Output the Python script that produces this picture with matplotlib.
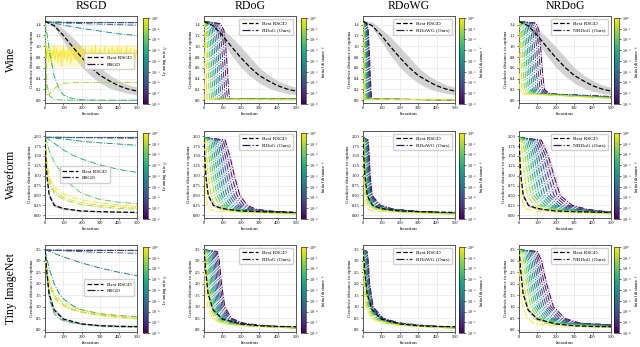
#!/usr/bin/env python3
"""Geodesic distance to optima for RSGD / RDoG / RDoWG / NRDoG on three datasets."""

import matplotlib
matplotlib.use("Agg")
import matplotlib.pyplot as plt
from matplotlib.cm import ScalarMappable
from matplotlib.colors import LogNorm
from matplotlib.lines import Line2D

DATASETS = ["Wine", "Waveform", "Tiny ImageNet"]
METHODS = ["RSGD", "RDoG", "RDoWG", "NRDoG"]
METHOD_LABELS = ["RSGD", "RDoG (Ours)", "RDoWG (Ours)", "NRDoG (Ours)"]
CBAR_LABELS = [r"Learning rate $\eta$", r"Initial distance $\epsilon$",
               r"Initial distance $\epsilon$", r"Initial distance $\epsilon$"]
X_TICKS = [0, 100, 200, 300, 400, 500]
Y_TICKS = {
    "Wine": [0.0, 0.2, 0.4, 0.6, 0.8, 1.0, 1.2, 1.4],
    "Waveform": [0.0, 0.25, 0.5, 0.75, 1.0, 1.25, 1.5, 1.75, 2.0],
    "Tiny ImageNet": [0.0, 0.5, 1.0, 1.5, 2.0, 2.5, 3.0, 3.5],
}
Y_FMT = {"Wine": "{:.1f}", "Waveform": "{:.2f}", "Tiny ImageNet": "{:.1f}"}
Y_LIM = {"Wine": (-0.05, 1.56), "Waveform": (-0.07, 2.13), "Tiny ImageNet": (-0.09, 3.68)}
CBAR_TICK_EXP = [0, -1, -2, -3, -4, -5, -6, -7, -8]

# ---- best RSGD (black dashed) with spread ----
WINE_BEST_X = [0, 50, 100, 150, 200, 250, 300, 350, 400, 450, 500]
WINE_BEST_Y = [1.46, 1.38, 1.2, 0.99, 0.79, 0.61, 0.46, 0.36, 0.27, 0.21, 0.17]
WINE_BEST_LO = [1.46, 1.35, 1.09, 0.83, 0.61, 0.45, 0.32, 0.23, 0.17, 0.13, 0.10]
WINE_BEST_HI = [1.46, 1.45, 1.32, 1.17, 0.99, 0.80, 0.61, 0.47, 0.37, 0.29, 0.24]

WAVE_BEST_X = [0, 4, 10, 23, 51, 98, 193, 300, 400, 500]
WAVE_BEST_Y = [1.97, 1.5, 1.0, 0.5, 0.25, 0.17, 0.11, 0.09, 0.08, 0.07]
WAVE_BEST_LO = [1.97, 1.42, 0.92, 0.44, 0.21, 0.14, 0.09, 0.075, 0.065, 0.055]
WAVE_BEST_HI = [1.97, 1.58, 1.08, 0.56, 0.29, 0.20, 0.13, 0.105, 0.095, 0.085]

TINY_BEST_X = [0, 5, 10, 22, 49, 100, 200, 300, 400, 500]
TINY_BEST_Y = [3.47, 3.0, 2.5, 1.58, 0.87, 0.47, 0.26, 0.18, 0.15, 0.14]
TINY_BEST_LO = [3.47, 2.85, 2.33, 1.45, 0.78, 0.41, 0.22, 0.15, 0.12, 0.11]
TINY_BEST_HI = [3.47, 3.15, 2.67, 1.72, 0.96, 0.53, 0.30, 0.21, 0.18, 0.17]

# ---- RSGD runs, one per learning rate (exponent of eta) ----
WINE_RSGD_X = [0, 10, 25, 50, 75, 100, 150, 200, 300, 400, 500]
WINE_RSGD_EXP = [-8, -7, -6, -5, -4, -3, -2, -1]
WINE_RSGD_Y = [
    [1.455, 1.455, 1.455, 1.455, 1.455, 1.455, 1.455, 1.455, 1.455, 1.455, 1.455],
    [1.45, 1.45, 1.45, 1.45, 1.45, 1.45, 1.45, 1.45, 1.45, 1.45, 1.45],
    [1.45, 1.45, 1.45, 1.45, 1.45, 1.445, 1.445, 1.44, 1.44, 1.435, 1.435],
    [1.45, 1.45, 1.445, 1.44, 1.435, 1.43, 1.425, 1.42, 1.41, 1.40, 1.39],
    [1.45, 1.45, 1.44, 1.43, 1.41, 1.39, 1.36, 1.33, 1.28, 1.23, 1.20],
    [1.45, 1.25, 0.89, 0.45, 0.22, 0.10, 0.03, 0.01, 0.0, 0.0, 0.0],
    [1.45, 0.30, 0.08, 0.02, 0.01, 0.005, 0.0, 0.0, 0.0, 0.0, 0.0],
    [1.45, 0.10, 0.12, 0.22, 0.28, 0.31, 0.33, 0.33, 0.33, 0.33, 0.33],
]
WINE_NOISY_EXP = 0
WINE_NOISY_RANGE = (0.62, 1.03)
WINE_NOISY_X = list(range(0, 501, 5))
WINE_NOISY_Y = [
    1.45, 0.93, 0.78, 0.99, 0.70, 0.88, 0.95, 0.66, 0.91, 0.82,
    1.02, 0.74, 0.87, 0.97, 0.69, 0.90, 0.80, 0.94, 0.63, 0.86,
    1.00, 0.77, 0.92, 0.84, 0.71, 0.96, 0.81, 0.89, 0.67, 0.93,
    0.85, 0.98, 0.75, 0.88, 0.79, 1.01, 0.72, 0.90, 0.83, 0.95,
    0.68, 0.87, 0.92, 0.76, 0.99, 0.81, 0.86, 0.64, 0.94, 0.89,
    0.78, 0.97, 0.73, 0.91, 0.84, 1.02, 0.70, 0.88, 0.82, 0.96,
    0.77, 0.93, 0.86, 0.65, 0.90, 0.99, 0.80, 0.87, 0.74, 0.95,
    0.83, 0.92, 0.69, 0.98, 0.85, 0.79, 0.94, 0.71, 0.89, 1.00,
    0.76, 0.91, 0.84, 0.97, 0.67, 0.88, 0.82, 0.93, 0.78, 1.01,
    0.73, 0.90, 0.86, 0.96, 0.70, 0.87, 0.81, 0.94, 0.75, 0.92,
    0.85,
]

WAVE_RSGD_X = [0, 10, 25, 50, 100, 150, 200, 300, 400, 500]
WAVE_RSGD_EXP = [-8, -7, -6, -5, -4, -3, -2, -1, -0.5, 0]
WAVE_RSGD_Y = [
    [1.975, 1.975, 1.975, 1.975, 1.975, 1.975, 1.975, 1.975, 1.975, 1.975],
    [1.97, 1.97, 1.97, 1.97, 1.97, 1.97, 1.97, 1.97, 1.97, 1.97],
    [1.97, 1.97, 1.97, 1.97, 1.97, 1.965, 1.965, 1.965, 1.96, 1.96],
    [1.97, 1.97, 1.97, 1.97, 1.965, 1.96, 1.96, 1.955, 1.95, 1.95],
    [1.97, 1.965, 1.96, 1.95, 1.93, 1.90, 1.87, 1.83, 1.80, 1.77],
    [1.97, 1.95, 1.90, 1.82, 1.65, 1.52, 1.42, 1.27, 1.16, 1.08],
    [1.97, 1.85, 1.60, 1.35, 0.98, 0.73, 0.55, 0.40, 0.33, 0.29],
    [1.97, 1.20, 0.80, 0.56, 0.40, 0.32, 0.27, 0.21, 0.17, 0.15],
    [1.97, 1.30, 0.88, 0.63, 0.45, 0.37, 0.32, 0.25, 0.21, 0.18],
    [1.97, 1.40, 0.95, 0.72, 0.54, 0.45, 0.39, 0.31, 0.26, 0.22],
]

TINY_RSGD_X = [0, 10, 25, 50, 75, 100, 150, 200, 300, 400, 500]
TINY_RSGD_EXP = [-8, -7, -6.5, -5.5, -4.7, -4, -2.8, -1, -0.5, 0]
TINY_RSGD_Y = [
    [3.47, 3.47, 3.47, 3.47, 3.47, 3.47, 3.47, 3.47, 3.47, 3.47, 3.47],
    [3.465, 3.465, 3.465, 3.465, 3.465, 3.465, 3.465, 3.465, 3.465, 3.465, 3.465],
    [3.46, 3.46, 3.46, 3.46, 3.46, 3.46, 3.46, 3.455, 3.455, 3.45, 3.45],
    [3.47, 3.47, 3.46, 3.45, 3.44, 3.43, 3.41, 3.39, 3.36, 3.34, 3.32],
    [3.47, 3.45, 3.40, 3.32, 3.24, 3.17, 3.03, 2.90, 2.68, 2.50, 2.35],
    [3.47, 3.10, 2.60, 2.00, 1.60, 1.35, 1.05, 0.87, 0.70, 0.62, 0.57],
    [3.47, 2.40, 1.30, 0.70, 0.50, 0.40, 0.30, 0.25, 0.20, 0.17, 0.16],
    [3.20, 2.60, 2.00, 1.50, 1.25, 1.10, 0.90, 0.78, 0.65, 0.57, 0.50],
    [3.15, 2.50, 1.90, 1.40, 1.18, 1.05, 0.86, 0.75, 0.62, 0.54, 0.48],
    [3.10, 2.70, 2.10, 1.60, 1.35, 1.20, 0.98, 0.85, 0.70, 0.62, 0.56],
]

# ---- DoG-type runs: one per initial distance epsilon ----
# each row: iteration at which every run first reaches the matching level
EPS_EXP = [-8, -7.33, -6.67, -6, -5.33, -4.67, -4, -3.33, -2.67, -2, -1.33, -0.67, 0]

WINE_LEVELS = [1.46, 1.42, 1.3, 1.0, 0.5, 0.15, 0.02]
WINE_RDOG_CROSS = [
    [88, 78, 68, 58, 49, 40, 32, 24, 17, 11, 6, 2, 0.3],
    [108, 97, 86, 75, 65, 55, 46, 37, 28, 20, 13, 6, 0.8],
    [118, 107, 96, 85, 75, 65, 55, 46, 37, 28, 19, 10, 1.5],
    [128, 117, 106, 95, 84, 74, 64, 54, 44, 34, 24, 13, 2.5],
    [135, 124, 113, 101, 90, 80, 69, 59, 48, 38, 27, 15, 3.5],
    [140, 129, 117, 106, 95, 84, 73, 62, 51, 41, 30, 17, 5],
]
WINE_RDOG_FINAL = [0.02, 0.02, 0.02, 0.02, 0.02, 0.02, 0.02, 0.02, 0.02, 0.02, 0.02, 0.015, 0.01]

WINE_RDOWG_CROSS = [
    [22, 20, 18, 16, 14, 12, 10, 8, 6, 4, 2.5, 1.2, 0.3],
    [28, 26, 24, 21.5, 19, 17, 14.5, 12, 10, 7.5, 5, 2.5, 0.6],
    [33, 30.5, 28, 25.5, 23, 20.5, 18, 15.5, 13, 10, 7, 4, 1.2],
    [39, 36, 33, 30, 27, 24, 21, 18, 15, 12, 9, 5, 2],
    [44, 41, 38, 34.5, 31, 28, 25, 21.5, 18, 14.5, 11, 6.5, 3],
    [47, 44, 41, 37.5, 34, 31, 27.5, 24, 20.5, 17, 13, 8, 4],
]
WINE_RDOWG_FINAL = [0.01, 0.01, 0.01, 0.01, 0.01, 0.01, 0.01, 0.01, 0.01, 0.01, 0.01, 0.01, 0.005]

NRDOG_WINE_LEVELS = [1.46, 1.43, 1.3, 1.0, 0.5, 0.2, 0.12]
WINE_NRDOG_CROSS = [
    [92, 82, 72, 62, 53, 44, 36, 28, 20, 13, 7, 3, 0.2],
    [108, 97, 86, 75, 65, 55, 46, 37, 28, 20, 13, 6, 0.5],
    [117, 106, 95, 84, 74, 64, 54, 45, 36, 27, 18, 9, 1],
    [128, 117, 106, 95, 84, 74, 64, 54, 44, 34, 24, 13, 2],
    [138, 127, 115, 104, 93, 82, 72, 61, 51, 40, 29, 17, 4],
    [170, 160, 150, 140, 130, 120, 110, 100, 90, 75, 60, 40, 20],
]
WINE_NRDOG_FINAL = [0.07, 0.065, 0.06, 0.058, 0.055, 0.052, 0.05, 0.048, 0.045, 0.042, 0.04, 0.038, 0.035]

WAVE_LEVELS = [1.97, 1.9, 1.5, 1.0, 0.5, 0.25, 0.15, 0.1]
WAVE_RDOG_CROSS = [
    [115, 104, 93, 83, 73, 63, 54, 45, 36, 27, 18, 9, 1],
    [140, 127, 115, 103, 91, 80, 69, 58, 47, 37, 27, 15, 2.5],
    [165, 151, 137, 124, 111, 98, 86, 74, 62, 50, 38, 23, 5],
    [195, 180, 165, 151, 137, 123, 110, 97, 84, 71, 57, 38, 11],
    [235, 219, 203, 188, 173, 158, 143, 128, 113, 98, 82, 60, 20],
    [285, 268, 251, 234, 218, 202, 186, 170, 154, 137, 120, 95, 32],
    [380, 362, 344, 326, 308, 290, 272, 254, 236, 217, 198, 160, 60],
]
WAVE_RDOG_FINAL = [0.07, 0.066, 0.062, 0.058, 0.055, 0.052, 0.049, 0.046, 0.043, 0.04, 0.036, 0.03, 0.02]

WAVE_RDOWG_CROSS = [
    [28, 26, 24, 21.5, 19, 17, 14.5, 12, 10, 7.5, 5, 2.5, 0.5],
    [34, 31.5, 29, 26.5, 24, 21.5, 19, 16, 13.5, 10.5, 7.5, 4.5, 1.5],
    [39, 36.5, 34, 31.5, 29, 26, 23, 20, 17, 14, 10.5, 7, 3],
    [50, 47, 44, 41, 38, 35, 32, 29, 26, 22, 18, 13, 7],
    [95, 90, 85, 80, 75, 70, 64, 58, 52, 45, 37, 28, 15],
    [170, 163, 156, 149, 142, 134, 126, 117, 107, 96, 83, 65, 30],
    [300, 290, 280, 270, 258, 246, 233, 220, 205, 188, 168, 135, 55],
]
WAVE_RDOWG_FINAL = [0.05, 0.048, 0.046, 0.044, 0.042, 0.04, 0.038, 0.036, 0.034, 0.032, 0.03, 0.025, 0.015]

WAVE_NRDOG_CROSS = [
    [121, 110, 99, 88, 78, 68, 58, 48, 38, 28, 19, 10, 1],
    [159, 145, 132, 119, 106, 94, 82, 70, 58, 46, 34, 20, 3],
    [190, 174, 159, 144, 129, 115, 101, 87, 74, 61, 47, 30, 5],
    [224, 207, 190, 173, 157, 141, 126, 111, 96, 81, 65, 45, 12],
    [289, 270, 251, 232, 214, 196, 178, 160, 142, 124, 106, 80, 25],
    [373, 352, 331, 310, 290, 270, 250, 230, 210, 190, 168, 135, 45],
    [460, 445, 430, 415, 400, 385, 368, 350, 330, 310, 285, 240, 90],
]
WAVE_NRDOG_FINAL = [0.08, 0.076, 0.072, 0.068, 0.064, 0.06, 0.056, 0.052, 0.048, 0.044, 0.04, 0.035, 0.03]

TINY_LEVELS = [3.47, 3.4, 3.0, 2.0, 1.0, 0.5, 0.3, 0.2]
TINY_RDOG_CROSS = [
    [72, 65, 58, 51, 45, 39, 33, 27, 21, 15, 9, 4, 0.3],
    [83, 75, 68, 61, 54, 47, 40, 33, 27, 21, 14, 7, 0.8],
    [95, 87, 79, 71, 64, 57, 50, 43, 36, 29, 22, 14, 5],
    [113, 105, 97, 89, 82, 75, 68, 61, 54, 47, 40, 31, 20],
    [150, 142, 134, 126, 118, 110, 102, 94, 86, 77, 68, 58, 45],
    [213, 203, 193, 183, 173, 163, 153, 143, 132, 121, 110, 100, 90],
    [305, 293, 281, 269, 257, 245, 233, 221, 209, 197, 185, 175, 170],
]
TINY_RDOG_FINAL = [0.1, 0.098, 0.096, 0.094, 0.092, 0.09, 0.088, 0.086, 0.084, 0.082, 0.08, 0.075, 0.07]

TINY_RDOWG_CROSS = [
    [22, 20, 18, 16, 14, 12, 10, 8, 6, 4, 2.5, 1.2, 0.3],
    [28, 26, 24, 21.5, 19, 17, 14.5, 12, 10, 7.5, 5, 2.5, 0.8],
    [36, 34, 32, 30, 28, 25.5, 23, 20.5, 18, 15, 12, 8, 4],
    [55, 53, 51, 49, 46, 43, 40, 37, 34, 30, 26, 21, 15],
    [110, 106, 102, 98, 94, 90, 85, 80, 75, 69, 62, 54, 45],
    [200, 194, 188, 182, 176, 169, 162, 155, 147, 138, 128, 115, 100],
    [320, 313, 306, 299, 291, 283, 275, 266, 257, 246, 233, 215, 190],
]
TINY_RDOWG_FINAL = [0.1, 0.097, 0.094, 0.091, 0.088, 0.085, 0.082, 0.079, 0.076, 0.073, 0.07, 0.065, 0.06]

TINY_NRDOG_CROSS = [
    [100, 91, 82, 73, 64, 56, 48, 40, 32, 24, 16, 8, 0.3],
    [122, 111, 101, 91, 81, 71, 62, 53, 44, 35, 26, 15, 0.8],
    [150, 138, 126, 115, 104, 93, 82, 71, 61, 51, 40, 27, 5],
    [187, 174, 161, 148, 136, 124, 112, 100, 88, 76, 63, 47, 20],
    [250, 234, 219, 204, 189, 174, 160, 146, 132, 117, 102, 80, 45],
    [330, 314, 298, 282, 266, 250, 234, 218, 200, 182, 162, 130, 80],
    [None, None, None, 480, 455, 430, 405, 380, 355, 330, 300, 250, 150],
]
TINY_NRDOG_FINAL = [0.22, 0.21, 0.2, 0.19, 0.18, 0.17, 0.16, 0.15, 0.14, 0.13, 0.12, 0.11, 0.1]

# seed spread of the DoG runs, in iterations
DOG_SPREAD = {
    ("Wine", "RDoG"): 3, ("Wine", "RDoWG"): 1.5, ("Wine", "NRDoG"): 3,
    ("Waveform", "RDoG"): 8, ("Waveform", "RDoWG"): 3, ("Waveform", "NRDoG"): 10,
    ("Tiny ImageNet", "RDoG"): 5, ("Tiny ImageNet", "RDoWG"): 3, ("Tiny ImageNet", "NRDoG"): 7,
}

BEST = {
    "Wine": (WINE_BEST_X, WINE_BEST_Y, WINE_BEST_LO, WINE_BEST_HI),
    "Waveform": (WAVE_BEST_X, WAVE_BEST_Y, WAVE_BEST_LO, WAVE_BEST_HI),
    "Tiny ImageNet": (TINY_BEST_X, TINY_BEST_Y, TINY_BEST_LO, TINY_BEST_HI),
}
RSGD = {
    "Wine": (WINE_RSGD_X, WINE_RSGD_EXP, WINE_RSGD_Y),
    "Waveform": (WAVE_RSGD_X, WAVE_RSGD_EXP, WAVE_RSGD_Y),
    "Tiny ImageNet": (TINY_RSGD_X, TINY_RSGD_EXP, TINY_RSGD_Y),
}
DOG = {
    ("Wine", "RDoG"): (WINE_LEVELS, WINE_RDOG_CROSS, WINE_RDOG_FINAL),
    ("Wine", "RDoWG"): (WINE_LEVELS, WINE_RDOWG_CROSS, WINE_RDOWG_FINAL),
    ("Wine", "NRDoG"): (NRDOG_WINE_LEVELS, WINE_NRDOG_CROSS, WINE_NRDOG_FINAL),
    ("Waveform", "RDoG"): (WAVE_LEVELS, WAVE_RDOG_CROSS, WAVE_RDOG_FINAL),
    ("Waveform", "RDoWG"): (WAVE_LEVELS, WAVE_RDOWG_CROSS, WAVE_RDOWG_FINAL),
    ("Waveform", "NRDoG"): (WAVE_LEVELS, WAVE_NRDOG_CROSS, WAVE_NRDOG_FINAL),
    ("Tiny ImageNet", "RDoG"): (TINY_LEVELS, TINY_RDOG_CROSS, TINY_RDOG_FINAL),
    ("Tiny ImageNet", "RDoWG"): (TINY_LEVELS, TINY_RDOWG_CROSS, TINY_RDOWG_FINAL),
    ("Tiny ImageNet", "NRDoG"): (TINY_LEVELS, TINY_NRDOG_CROSS, TINY_NRDOG_FINAL),
}
RSGD_LEGEND_POS = {"Wine": (1.0, 0.48), "Waveform": (0.73, 0.5), "Tiny ImageNet": (1.0, 0.51)}

# layout in pixels of the 640x347 canvas
W, H = 640, 347
AX_LEFT = [45, 204, 363, 519]
AX_TOP = [16, 131, 245]
AX_W, AX_H = 92, 87
CB_LEFT = [143, 301, 459, 614]
CB_W = 5

plt.rcParams["font.family"] = ["Liberation Serif", "DejaVu Serif"]
plt.rcParams["mathtext.fontset"] = "cm"

CMAP = plt.get_cmap("viridis")
NORM = LogNorm(vmin=1e-8, vmax=1.0)


def px_rect(left, top, w, h):
    return [left / W, 1 - (top + h) / H, w / W, h / H]


def run_knots(levels, rows, finals, i):
    xs, ys = [0], [levels[0]]
    for level, row in zip(levels[1:], rows):
        if row[i] is not None:
            xs.append(row[i])
            ys.append(level)
    xs.append(500)
    ys.append(finals[i])
    return xs, ys


def draw_best(ax, dataset):
    bx, by, lo, hi = BEST[dataset]
    ax.fill_between(bx, lo, hi, color="#c4c4c4", alpha=0.75, lw=0, zorder=1)
    ax.plot(bx, by, color="black", ls="--", lw=0.9, zorder=5)


def draw_rsgd(ax, dataset):
    xs, exps, ys = RSGD[dataset]
    for e, y in zip(exps, ys):
        ax.plot(xs, y, color=CMAP(NORM(10.0 ** e)), ls="-.", lw=0.7, zorder=3)
    if dataset == "Wine":
        c = CMAP(NORM(10.0 ** WINE_NOISY_EXP))
        ax.fill_between([WINE_NOISY_X[1], WINE_NOISY_X[-1]], WINE_NOISY_RANGE[0],
                        WINE_NOISY_RANGE[1], color=c, alpha=0.22, lw=0, zorder=2)
        ax.plot(WINE_NOISY_X, WINE_NOISY_Y, color=c, lw=0.6, zorder=2)


def draw_dog(ax, dataset, method):
    levels, rows, finals = DOG[(dataset, method)]
    spread = DOG_SPREAD[(dataset, method)]
    for i, e in enumerate(EPS_EXP):
        xs, ys = run_knots(levels, rows, finals, i)
        c = CMAP(NORM(10.0 ** e))
        ax.fill_betweenx(ys, [x - spread for x in xs], [x + spread for x in xs],
                         color=c, alpha=0.08, lw=0, zorder=1)
        ax.plot(xs, ys, color=c, ls="-.", lw=0.7, zorder=3)


fig = plt.figure(figsize=(W / 100, H / 100), dpi=100)

for r, dataset in enumerate(DATASETS):
    for c, method in enumerate(METHODS):
        ax = fig.add_axes(px_rect(AX_LEFT[c], AX_TOP[r], AX_W, AX_H))
        if method == "RSGD":
            draw_rsgd(ax, dataset)
        else:
            draw_dog(ax, dataset, method)
        draw_best(ax, dataset)

        ax.set_xlim(0, 500)
        ax.set_ylim(*Y_LIM[dataset])
        ax.set_xticks(X_TICKS)
        ax.set_xticklabels([str(t) for t in X_TICKS])
        ax.set_yticks(Y_TICKS[dataset])
        ax.set_yticklabels([Y_FMT[dataset].format(t) for t in Y_TICKS[dataset]])
        ax.tick_params(labelsize=3.2, length=1.5, width=0.4, pad=1.0)
        ax.grid(color="#e4e4e4", lw=0.4, zorder=0)
        ax.set_axisbelow(True)
        for sp in ax.spines.values():
            sp.set_linewidth(0.7)
            sp.set_color("#555555")
        ax.set_xlabel("Iteration", fontsize=3.7, labelpad=1.2)
        ax.set_ylabel("Geodesic distance to optima", fontsize=3.6, labelpad=1.5)

        handles = [
            Line2D([], [], color="black", ls="--", lw=0.9, label="Best RSGD"),
            Line2D([], [], color="#2b1b3f", ls="-.", lw=0.9, label=METHOD_LABELS[c]),
        ]
        if method == "RSGD":
            ax.legend(handles=handles, loc="center right", bbox_to_anchor=RSGD_LEGEND_POS[dataset],
                      fontsize=3.8, handlelength=3, borderpad=0.5, labelspacing=0.35,
                      frameon=True, edgecolor="#cccccc", framealpha=0.9, fancybox=True)
        else:
            ax.legend(handles=handles, loc="upper right", fontsize=3.8, handlelength=3,
                      borderpad=0.5, labelspacing=0.35, frameon=True, edgecolor="#cccccc",
                      framealpha=0.9, fancybox=True)

        cax = fig.add_axes(px_rect(CB_LEFT[c], AX_TOP[r] + 2, CB_W, AX_H - 1))
        sm = ScalarMappable(norm=NORM, cmap=CMAP)
        cb = fig.colorbar(sm, cax=cax)
        cb.set_ticks([10.0 ** k for k in CBAR_TICK_EXP])
        cb.set_ticklabels([r"$10^{%d}$" % k for k in CBAR_TICK_EXP])
        cb.ax.minorticks_off()
        cb.ax.tick_params(labelsize=3.0, length=1.3, width=0.4, pad=0.8)
        cb.outline.set_linewidth(0.4)
        cb.set_label(CBAR_LABELS[c], fontsize=3.4, labelpad=0.6)

for c, method in enumerate(METHODS):
    fig.text((AX_LEFT[c] + AX_W / 2) / W, 1 - 6 / H, method, fontsize=8.5,
             ha="center", va="center")
for r, dataset in enumerate(DATASETS):
    fig.text(11 / W, 1 - (AX_TOP[r] + AX_H / 2) / H, dataset, fontsize=8.5,
             rotation=90, ha="center", va="center")

fig.savefig("out.png", dpi=100)
plt.close(fig)
